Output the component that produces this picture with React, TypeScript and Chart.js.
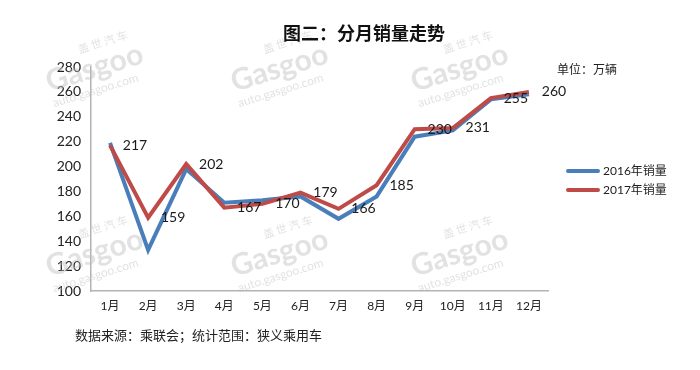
import React, { useEffect, useRef } from "react";
import { Chart, registerables } from "chart.js";

Chart.register(...registerables);

const months = ["1月", "2月", "3月", "4月", "5月", "6月", "7月", "8月", "9月", "10月", "11月", "12月"];
const sales2016 = [219, 133, 198, 171, 173, 176, 158, 176, 224, 229, 254, 258];
const sales2017 = [217, 159, 202, 167, 170, 179, 166, 185, 230, 231, 255, 260];
const labels2017 = ["217", "159", "202", "167", "170", "179", "166", "185", "230", "231", "255", "260"];
const seriesNames = ["2016年销量", "2017年销量"];
const yMin = 100;
const yMax = 280;
const yStep = 20;

const FONT = '"Lato", "Noto Sans CJK SC", sans-serif';
const CJK = '"Noto Sans CJK SC", sans-serif';
const BLUE = "#4a7ebb";
const RED = "#be4b48";

const decor = {
  id: "decor",
  beforeDatasetsDraw(chart: any) {
    const ctx = chart.ctx;
    ctx.save();
    const spots = [
      [40, 95], [225, 95], [405, 95],
      [40, 280], [225, 280], [405, 280],
    ];
    for (const [x, y] of spots) {
      ctx.save();
      ctx.translate(x, y);
      ctx.rotate(-0.3);
      ctx.fillStyle = "rgba(190,190,190,0.45)";
      ctx.font = "bold 30px " + FONT;
      ctx.fillText("Gasgoo", 10, 0);
      ctx.font = "12px " + FONT;
      ctx.fillText("auto.gasgoo.com", 10, 16);
      ctx.font = "11px " + CJK;
      ctx.fillText("盖 世 汽 车", 50, -28);
      ctx.restore();
    }
    ctx.restore();
  },
  afterDraw(chart: any) {
    const ctx = chart.ctx;
    const xs = chart.scales.x;
    const ys = chart.scales.y;
    ctx.save();
    // data labels for 2017 series
    ctx.fillStyle = "#1a1a1a";
    ctx.font = "14px " + FONT;
    ctx.textAlign = "center";
    ctx.textBaseline = "middle";
    sales2017.forEach((v, i) => {
      const px = xs.getPixelForValue(i);
      const py = ys.getPixelForValue(v);
      ctx.fillText(labels2017[i], px + 25, py);
    });
    // title
    ctx.font = "bold 18px " + CJK;
    ctx.fillStyle = "#111";
    ctx.fillText("图二：分月销量走势", 364, 33);
    // unit
    ctx.textAlign = "left";
    ctx.font = "12px " + CJK;
    ctx.fillStyle = "#222";
    ctx.fillText("单位：万辆", 557, 69);
    // legend
    const leg = [
      { c: BLUE, t: seriesNames[0], y: 171 },
      { c: RED, t: seriesNames[1], y: 190 },
    ];
    for (const l of leg) {
      ctx.strokeStyle = l.c;
      ctx.lineWidth = 4;
      ctx.lineCap = "round";
      ctx.beginPath();
      ctx.moveTo(568, l.y);
      ctx.lineTo(598, l.y);
      ctx.stroke();
      ctx.fillStyle = "#222";
      ctx.font = "12px " + FONT;
      ctx.fillText(l.t, 603, l.y);
    }
    // footer
    ctx.font = "13px " + CJK;
    ctx.fillStyle = "#222";
    ctx.fillText("数据来源：乘联会；统计范围：狭义乘用车", 75, 335);
    ctx.restore();
  },
};

export default function App() {
  const ref = useRef<HTMLCanvasElement | null>(null);
  useEffect(() => {
    document.body.style.margin = "0";
    if (!ref.current) return;
    const chart = new Chart(ref.current, {
      type: "line",
      data: {
        labels: months,
        datasets: [
          {
            label: seriesNames[0],
            data: sales2016,
            borderColor: BLUE,
            backgroundColor: BLUE,
            borderWidth: 4,
            pointRadius: 0,
            tension: 0,
            order: 2,
          },
          {
            label: seriesNames[1],
            data: sales2017,
            borderColor: RED,
            backgroundColor: RED,
            borderWidth: 4,
            pointRadius: 0,
            tension: 0,
            order: 1,
          },
        ],
      },
      options: {
        responsive: true,
        maintainAspectRatio: false,
        animation: false,
        layout: { padding: { top: 67, left: 0, right: 152, bottom: 0 } },
        plugins: { legend: { display: false }, tooltip: { enabled: false }, title: { display: false } },
        scales: {
          x: {
            offset: true,
            grid: { display: false, drawTicks: false },
            border: { display: true, color: "#b3b3b3", width: 1.5 },
            ticks: { color: "#222", font: { size: 12, family: FONT }, padding: 8, maxRotation: 0, autoSkip: false },
            afterFit(scale: any) {
              scale.height = 79;
            },
          },
          y: {
            min: yMin,
            max: yMax,
            grid: { display: false, drawTicks: false },
            border: { display: true, color: "#b3b3b3", width: 1.5 },
            ticks: { stepSize: yStep, color: "#222", font: { size: 14, family: FONT }, padding: 10 },
            afterFit(scale: any) {
              scale.width = 91;
            },
          },
        },
      },
      plugins: [decor],
    });
    return () => chart.destroy();
  }, []);
  return (
    <div style={{ position: "absolute", left: 0, top: 0, width: 700, height: 370, background: "#fff" }}>
      <canvas ref={ref} />
    </div>
  );
}
